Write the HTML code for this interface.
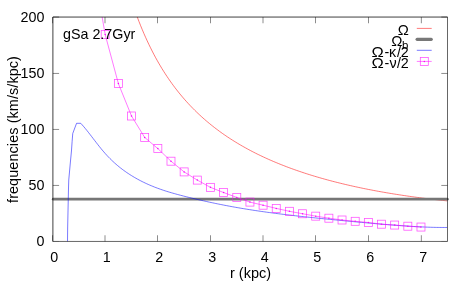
<!DOCTYPE html>
<html><head><meta charset="utf-8"><title>plot</title>
<style>
html,body{margin:0;padding:0;background:#fff;}
svg{display:block;will-change:transform;}
text{font-family:"Liberation Sans",sans-serif;font-size:14.3px;fill:#000;}
</style></head><body>
<svg width="471" height="283" viewBox="0 0 471 283">
<rect width="471" height="283" fill="#fff"/>
<defs><filter id="b" x="-5%" y="-5%" width="110%" height="110%"><feGaussianBlur stdDeviation="0.3"/></filter><clipPath id="c"><rect x="52.57" y="17.05" width="394.73" height="224.39999999999998"/></clipPath></defs>

<g stroke="#000" stroke-width="0.75" stroke-opacity="0.6" fill="none">
<path d="M52.9,241.45 h6.2 M447.5,241.45 h-6.2" stroke-opacity="0.2"/>
<path d="M52.9,185.45 h6.2 M447.5,185.45 h-6.2"/>
<path d="M52.9,129.45 h6.2 M447.5,129.45 h-6.2"/>
<path d="M52.9,73.45 h6.2 M447.5,73.45 h-6.2"/>
<path d="M52.9,17.05 h6.2 M447.5,17.05 h-6.2"/>
<path d="M52.55,241.45 v-6.2 M52.55,17.05 v6.2"/>
<path d="M105.00,241.45 v-6.2 M105.00,17.05 v6.2"/>
<path d="M157.50,241.45 v-6.2 M157.50,17.05 v6.2"/>
<path d="M210.50,241.45 v-6.2 M210.50,17.05 v6.2"/>
<path d="M263.00,241.45 v-6.2 M263.00,17.05 v6.2"/>
<path d="M315.50,241.45 v-6.2 M315.50,17.05 v6.2"/>
<path d="M368.50,241.45 v-6.2 M368.50,17.05 v6.2"/>
<path d="M421.35,241.45 v-6.2 M421.35,17.05 v6.2"/>
</g>
<text x="44.4" y="246.35" text-anchor="end">0</text>
<text x="44.4" y="190.35" text-anchor="end">50</text>
<text x="44.4" y="134.35" text-anchor="end">100</text>
<text x="44.4" y="78.35" text-anchor="end">150</text>
<text x="44.4" y="21.95" text-anchor="end">200</text>
<text x="54.35" y="261.8" text-anchor="middle">0</text>
<text x="106.80" y="261.8" text-anchor="middle">1</text>
<text x="159.30" y="261.8" text-anchor="middle">2</text>
<text x="212.30" y="261.8" text-anchor="middle">3</text>
<text x="264.80" y="261.8" text-anchor="middle">4</text>
<text x="317.30" y="261.8" text-anchor="middle">5</text>
<text x="370.30" y="261.8" text-anchor="middle">6</text>
<text x="423.15" y="261.8" text-anchor="middle">7</text>
<text transform="translate(17.9,129.5) rotate(-90)" text-anchor="middle" style="font-size:14.4px;letter-spacing:0.1px">frequencies (km/s/kpc)</text>
<text x="250.5" y="277.6" text-anchor="middle" style="font-size:14.5px">r (kpc)</text>
<g filter="url(#b)">
<g clip-path="url(#c)" fill="none">
<path d="M120.99,-36.58 L122.63,-30.08 L124.27,-23.88 L125.91,-17.95 L127.55,-12.27 L129.19,-6.82 L130.83,-1.60 L132.47,3.41 L134.11,8.23 L135.75,12.86 L137.39,17.32 L139.03,21.61 L140.67,25.75 L142.31,29.74 L143.95,33.60 L145.59,37.32 L147.23,40.92 L148.87,44.40 L150.51,47.76 L152.15,51.02 L153.78,54.18 L155.42,57.25 L157.06,60.22 L158.70,63.10 L160.34,65.89 L161.98,68.61 L163.62,71.25 L165.26,73.82 L166.90,76.31 L168.54,78.74 L170.18,81.10 L171.82,83.41 L173.46,85.65 L175.10,87.83 L176.74,89.96 L178.38,92.04 L180.02,94.06 L181.66,96.04 L183.30,97.97 L184.94,99.85 L186.58,101.69 L188.22,103.49 L189.86,105.25 L191.50,106.96 L193.14,108.64 L194.78,110.29 L196.42,111.89 L198.06,113.46 L199.70,115.00 L201.34,116.51 L202.98,117.99 L204.62,119.43 L206.26,120.85 L207.90,122.24 L209.54,123.60 L211.18,124.93 L212.82,126.24 L214.46,127.52 L216.10,128.78 L217.74,130.01 L219.37,131.22 L221.01,132.41 L222.65,133.58 L224.29,134.72 L225.93,135.85 L227.57,136.96 L229.21,138.04 L230.85,139.11 L232.49,140.15 L234.13,141.18 L235.77,142.20 L237.41,143.19 L239.05,144.17 L240.69,145.13 L242.33,146.08 L243.97,147.01 L245.61,147.92 L247.25,148.82 L248.89,149.71 L250.53,150.58 L252.17,151.44 L253.81,152.29 L255.45,153.12 L257.09,153.94 L258.73,154.74 L260.37,155.53 L262.01,156.32 L263.65,157.09 L265.29,157.84 L266.93,158.59 L268.57,159.33 L270.21,160.05 L271.85,160.76 L273.49,161.47 L275.13,162.16 L276.77,162.84 L278.41,163.52 L280.05,164.18 L281.69,164.84 L283.33,165.48 L284.96,166.12 L286.60,166.75 L288.24,167.36 L289.88,167.97 L291.52,168.58 L293.16,169.17 L294.80,169.75 L296.44,170.33 L298.08,170.90 L299.72,171.46 L301.36,172.01 L303.00,172.56 L304.64,173.10 L306.28,173.63 L307.92,174.16 L309.56,174.67 L311.20,175.19 L312.84,175.69 L314.48,176.19 L316.12,176.68 L317.76,177.16 L319.40,177.64 L321.04,178.11 L322.68,178.58 L324.32,179.04 L325.96,179.49 L327.60,179.94 L329.24,180.38 L330.88,180.82 L332.52,181.25 L334.16,181.68 L335.80,182.10 L337.44,182.51 L339.08,182.92 L340.72,183.32 L342.36,183.72 L344.00,184.12 L345.64,184.50 L347.28,184.89 L348.92,185.27 L350.55,185.64 L352.19,186.01 L353.83,186.38 L355.47,186.74 L357.11,187.09 L358.75,187.44 L360.39,187.79 L362.03,188.13 L363.67,188.47 L365.31,188.80 L366.95,189.13 L368.59,189.46 L370.23,189.78 L371.87,190.09 L373.51,190.41 L375.15,190.71 L376.79,191.02 L378.43,191.32 L380.07,191.62 L381.71,191.91 L383.35,192.20 L384.99,192.48 L386.63,192.77 L388.27,193.04 L389.91,193.32 L391.55,193.59 L393.19,193.86 L394.83,194.12 L396.47,194.38 L398.11,194.64 L399.75,194.89 L401.39,195.14 L403.03,195.39 L404.67,195.63 L406.31,195.87 L407.95,196.11 L409.59,196.34 L411.23,196.57 L412.87,196.80 L414.51,197.02 L416.14,197.25 L417.78,197.46 L419.42,197.68 L421.06,197.89 L422.70,198.10 L424.34,198.31 L425.98,198.51 L427.62,198.71 L429.26,198.91 L430.90,199.10 L432.54,199.29 L434.18,199.48 L435.82,199.67 L437.46,199.85 L439.10,200.03 L440.74,200.21 L442.38,200.38 L444.02,200.56 L445.66,200.73 L447.30,200.89" stroke="#ff0000" stroke-opacity="0.7" stroke-width="0.75"/>
</g>
<path d="M53.2,199.2 H447.4" stroke="#767676" stroke-width="2.7" stroke-linecap="round" fill="none"/>
<g clip-path="url(#c)" fill="none">
<path d="M67.50,241.60 L67.65,228.00 L68.50,188.00 L68.75,180.00 L70.40,162.00 L71.46,151.00 L72.10,141.75 L72.74,133.50 L76.56,123.30 L80.76,123.30 L82.29,124.99 L83.83,126.76 L85.36,128.60 L86.90,130.48 L88.43,132.41 L89.96,134.38 L91.50,136.36 L93.03,138.36 L94.57,140.36 L96.10,142.36 L97.63,144.34 L99.17,146.29 L100.70,148.20 L102.24,150.07 L103.77,151.87 L105.30,153.62 L106.84,155.30 L108.37,156.93 L109.91,158.50 L111.44,160.01 L112.98,161.48 L114.51,162.89 L116.04,164.25 L117.58,165.56 L119.11,166.83 L120.65,168.05 L122.18,169.23 L123.71,170.37 L125.25,171.48 L126.78,172.54 L128.32,173.57 L129.85,174.57 L131.38,175.54 L132.92,176.48 L134.45,177.39 L135.99,178.27 L137.52,179.13 L139.05,179.96 L140.59,180.76 L142.12,181.55 L143.66,182.30 L145.19,183.04 L146.72,183.75 L148.26,184.44 L149.79,185.11 L151.33,185.76 L152.86,186.39 L154.39,187.00 L155.93,187.60 L157.46,188.18 L159.00,188.74 L160.53,189.28 L162.07,189.81 L163.60,190.33 L165.13,190.83 L166.67,191.32 L168.20,191.79 L169.74,192.26 L171.27,192.71 L172.80,193.16 L174.34,193.59 L175.87,194.02 L177.41,194.44 L178.94,194.85 L180.47,195.25 L182.01,195.65 L183.54,196.05 L185.08,196.44 L186.61,196.82 L188.14,197.21 L189.68,197.59 L191.21,197.96 L192.75,198.33 L194.28,198.70 L195.81,199.07 L197.35,199.43 L198.88,199.79 L200.42,200.14 L201.95,200.49 L203.48,200.84 L205.02,201.18 L206.55,201.52 L208.09,201.86 L209.62,202.19 L211.15,202.52 L212.69,202.85 L214.22,203.17 L215.76,203.49 L217.29,203.80 L218.83,204.12 L220.36,204.42 L221.89,204.73 L223.43,205.03 L224.96,205.33 L226.50,205.62 L228.03,205.91 L229.56,206.20 L231.10,206.49 L232.63,206.77 L234.17,207.04 L235.70,207.32 L237.23,207.59 L238.77,207.85 L240.30,208.12 L241.84,208.38 L243.37,208.64 L244.90,208.89 L246.44,209.14 L247.97,209.39 L249.51,209.63 L251.04,209.87 L252.57,210.11 L254.11,210.35 L255.64,210.58 L257.18,210.81 L258.71,211.04 L260.24,211.26 L261.78,211.49 L263.31,211.70 L264.85,211.92 L266.38,212.14 L267.92,212.35 L269.45,212.56 L270.98,212.76 L272.52,212.97 L274.05,213.17 L275.59,213.37 L277.12,213.57 L278.65,213.76 L280.19,213.96 L281.72,214.15 L283.26,214.34 L284.79,214.52 L286.32,214.71 L287.86,214.89 L289.39,215.07 L290.93,215.25 L292.46,215.43 L293.99,215.61 L295.53,215.78 L297.06,215.96 L298.60,216.13 L300.13,216.30 L301.66,216.47 L303.20,216.64 L304.73,216.80 L306.27,216.97 L307.80,217.13 L309.33,217.29 L310.87,217.45 L312.40,217.61 L313.94,217.77 L315.47,217.93 L317.01,218.09 L318.54,218.24 L320.07,218.40 L321.61,218.55 L323.14,218.71 L324.68,218.86 L326.21,219.01 L327.74,219.16 L329.28,219.31 L330.81,219.46 L332.35,219.61 L333.88,219.76 L335.41,219.91 L336.95,220.06 L338.48,220.21 L340.02,220.36 L341.55,220.51 L343.08,220.65 L344.62,220.80 L346.15,220.95 L347.69,221.09 L349.22,221.24 L350.75,221.39 L352.29,221.53 L353.82,221.68 L355.36,221.82 L356.89,221.96 L358.42,222.11 L359.96,222.25 L361.49,222.39 L363.03,222.53 L364.56,222.67 L366.09,222.81 L367.63,222.95 L369.16,223.09 L370.70,223.22 L372.23,223.36 L373.77,223.49 L375.30,223.63 L376.83,223.76 L378.37,223.89 L379.90,224.02 L381.44,224.15 L382.97,224.28 L384.50,224.40 L386.04,224.53 L387.57,224.65 L389.11,224.77 L390.64,224.89 L392.17,225.01 L393.71,225.13 L395.24,225.24 L396.78,225.35 L398.31,225.47 L399.84,225.58 L401.38,225.68 L402.91,225.79 L404.45,225.89 L405.98,226.00 L407.51,226.10 L409.05,226.19 L410.58,226.29 L412.12,226.38 L413.65,226.48 L415.18,226.56 L416.72,226.65 L418.25,226.73 L419.79,226.81 L421.32,226.89 L422.86,226.96 L424.39,227.03 L425.92,227.09 L427.46,227.15 L428.99,227.20 L430.53,227.25 L432.06,227.30 L433.59,227.34 L435.13,227.38 L436.66,227.41 L438.20,227.43 L439.73,227.45 L441.26,227.46 L442.80,227.47 L444.33,227.47 L445.87,227.47 L447.40,227.46" stroke="#0000ff" stroke-opacity="0.7" stroke-width="0.75"/>
<path d="M92.20,-40.00 L105.20,34.60 L118.36,83.55 L131.52,116.00 L144.67,137.40 L157.83,148.60 L170.99,161.20 L184.15,171.90 L197.30,180.10 L210.46,187.35 L223.62,192.55 L236.78,197.45 L249.94,202.10 L263.09,205.20 L276.25,208.40 L289.41,211.30 L302.57,213.75 L315.72,216.15 L328.88,218.20 L342.04,220.00 L355.20,221.30 L368.35,222.50 L381.51,224.20 L394.67,225.05 L407.83,226.20 L420.98,227.05" stroke="#ff00ff" stroke-opacity="0.7" stroke-width="0.75"/>
</g>
<g fill="none" stroke="#ff00ff" stroke-opacity="0.7" stroke-width="0.75">
<rect x="101.20" y="30.60" width="8" height="8"/>
<rect x="114.36" y="79.55" width="8" height="8"/>
<rect x="127.52" y="112.00" width="8" height="8"/>
<rect x="140.67" y="133.40" width="8" height="8"/>
<rect x="153.83" y="144.60" width="8" height="8"/>
<rect x="166.99" y="157.20" width="8" height="8"/>
<rect x="180.15" y="167.90" width="8" height="8"/>
<rect x="193.30" y="176.10" width="8" height="8"/>
<rect x="206.46" y="183.35" width="8" height="8"/>
<rect x="219.62" y="188.55" width="8" height="8"/>
<rect x="232.78" y="193.45" width="8" height="8"/>
<rect x="245.94" y="198.10" width="8" height="8"/>
<rect x="259.09" y="201.20" width="8" height="8"/>
<rect x="272.25" y="204.40" width="8" height="8"/>
<rect x="285.41" y="207.30" width="8" height="8"/>
<rect x="298.57" y="209.75" width="8" height="8"/>
<rect x="311.72" y="212.15" width="8" height="8"/>
<rect x="324.88" y="214.20" width="8" height="8"/>
<rect x="338.04" y="216.00" width="8" height="8"/>
<rect x="351.20" y="217.30" width="8" height="8"/>
<rect x="364.35" y="218.50" width="8" height="8"/>
<rect x="377.51" y="220.20" width="8" height="8"/>
<rect x="390.67" y="221.05" width="8" height="8"/>
<rect x="403.83" y="222.20" width="8" height="8"/>
<rect x="416.98" y="223.05" width="8" height="8"/>
</g>
<g fill="#ff00ff">
<circle cx="105.20" cy="34.60" r="0.75"/>
<circle cx="118.36" cy="83.55" r="0.75"/>
<circle cx="131.52" cy="116.00" r="0.75"/>
<circle cx="144.67" cy="137.40" r="0.75"/>
<circle cx="157.83" cy="148.60" r="0.75"/>
<circle cx="170.99" cy="161.20" r="0.75"/>
<circle cx="184.15" cy="171.90" r="0.75"/>
<circle cx="197.30" cy="180.10" r="0.75"/>
<circle cx="210.46" cy="187.35" r="0.75"/>
<circle cx="223.62" cy="192.55" r="0.75"/>
<circle cx="236.78" cy="197.45" r="0.75"/>
<circle cx="249.94" cy="202.10" r="0.75"/>
<circle cx="263.09" cy="205.20" r="0.75"/>
<circle cx="276.25" cy="208.40" r="0.75"/>
<circle cx="289.41" cy="211.30" r="0.75"/>
<circle cx="302.57" cy="213.75" r="0.75"/>
<circle cx="315.72" cy="216.15" r="0.75"/>
<circle cx="328.88" cy="218.20" r="0.75"/>
<circle cx="342.04" cy="220.00" r="0.75"/>
<circle cx="355.20" cy="221.30" r="0.75"/>
<circle cx="368.35" cy="222.50" r="0.75"/>
<circle cx="381.51" cy="224.20" r="0.75"/>
<circle cx="394.67" cy="225.05" r="0.75"/>
<circle cx="407.83" cy="226.20" r="0.75"/>
<circle cx="420.98" cy="227.05" r="0.75"/>
</g>
</g>
<path d="M52.9,241.45 V17.05 H447.5" fill="none" stroke="#000" stroke-opacity="1" stroke-width="0.75"/>
<path d="M447.5,17.05 V241.45 H52.9" fill="none" stroke="#000" stroke-opacity="0.8" stroke-width="0.75"/>
<text x="63.0" y="38.5">gSa 2.7Gyr</text>
<text transform="translate(408.9,35.0) scale(1.04,1)" text-anchor="end">Ω</text>
<text transform="translate(402.6,45.9) scale(1.05,1)" text-anchor="end">Ω</text>
<text x="401.9" y="49.0" style="font-size:11.44px">b</text>
<path d="M417.1,39.35 H431.3" stroke="#787878" stroke-width="3.1" stroke-linecap="round"/>
<text transform="translate(383.8,56.6) scale(1.15,1)" text-anchor="end">Ω</text>
<text x="384.4 389.1 397.0 400.7" y="56.6">-κ/2</text>
<text transform="translate(383.8,67.6) scale(1.15,1)" text-anchor="end">Ω</text>
<text x="384.4 389.6 397.0 400.7" y="67.6">-ν/2</text>
<g filter="url(#b)">
<path d="M416.8,28.4 H431.7" stroke="#ff0000" stroke-opacity="0.7" stroke-width="0.75"/>
<path d="M416.8,50.3 H431.7" stroke="#0000ff" stroke-opacity="0.7" stroke-width="0.75"/>
<path d="M416.8,61.4 H431.7" stroke="#ff00ff" stroke-opacity="0.7" stroke-width="0.75"/>
<rect x="420.3" y="57.4" width="8" height="8" fill="none" stroke="#ff00ff" stroke-opacity="0.7" stroke-width="0.75"/>
<circle cx="424.3" cy="61.4" r="0.75" fill="#ff00ff"/>
</g>
</svg></body></html>
